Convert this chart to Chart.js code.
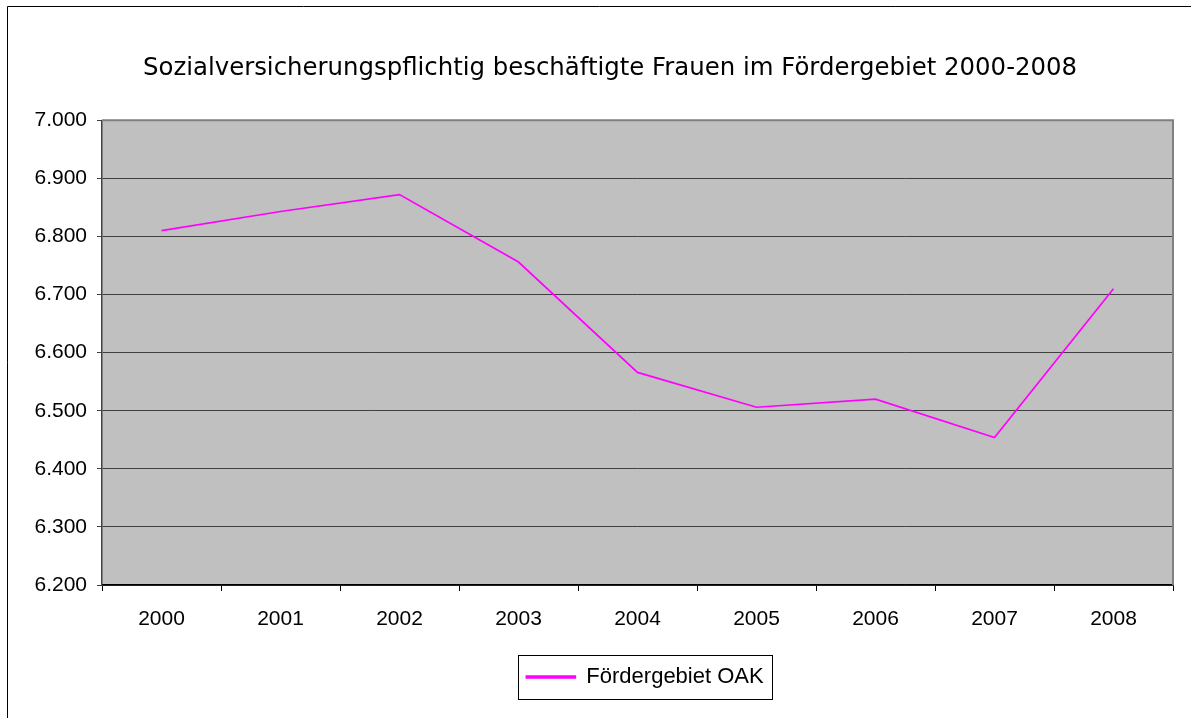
<!DOCTYPE html>
<html>
<head>
<meta charset="utf-8">
<script src="https://cdn.jsdelivr.net/npm/chart.js@4.4.0/dist/chart.umd.min.js"></script>
<style>
  html, body { margin: 0; padding: 0; background: #fff; }
  #wrap { position: absolute; left: 0; top: 0; width: 1191px; height: 718px; }
</style>
</head>
<body>
<div id="wrap"><canvas id="c" width="1191" height="718"></canvas></div>
<script>
const categories = ['2000','2001','2002','2003','2004','2005','2006','2007','2008'];
const seriesName = 'Fördergebiet OAK';
const seriesValues = [6810, 6843, 6872, 6756, 6566, 6506, 6520, 6454, 6710];
const titleText = 'Sozialversicherungspflichtig beschäftigte Frauen im Fördergebiet 2000-2008';
const yMin = 6200, yMax = 7000, yStep = 100;

const FONT = "'Liberation Sans', Arial, sans-serif";
const TFONT = "'DejaVu Sans', sans-serif";

const bgPlugin = {
  id: 'bgPlugin',
  afterLayout(chart) {
    if (chart.titleBlock) { chart.titleBlock.left = 47; }
    if (chart.legend) { chart.legend.left = 117; chart.legend.right = 1173; }
  },
  beforeDraw(chart) {
    const ctx = chart.ctx;
    ctx.save();
    ctx.fillStyle = '#ffffff';
    ctx.fillRect(0, 0, chart.width, chart.height);
    ctx.strokeStyle = '#000000';
    ctx.lineWidth = 1;
    ctx.beginPath();
    ctx.moveTo(7.5, chart.height);
    ctx.lineTo(7.5, 6.5);
    ctx.lineTo(chart.width, 6.5);
    ctx.stroke();
    const a = chart.chartArea;
    ctx.fillStyle = '#c0c0c0';
    ctx.fillRect(a.left, a.top, a.right - a.left, a.bottom - a.top);
    ctx.restore();
  },
  afterDraw(chart) {
    const ctx = chart.ctx;
    const a = chart.chartArea;
    ctx.save();
    ctx.strokeStyle = '#808080';
    ctx.lineWidth = 2;
    ctx.beginPath();
    ctx.moveTo(a.left, a.top);
    ctx.lineTo(a.right, a.top);
    ctx.lineTo(a.right, a.bottom);
    ctx.stroke();
    const lg = chart.legend;
    if (lg && lg.legendHitBoxes && lg.legendHitBoxes.length) {
      const hb = lg.legendHitBoxes[0];
      ctx.strokeStyle = '#000000';
      ctx.lineWidth = 1;
      const l = Math.round(hb.left - 8) + 0.5;
      const t = Math.round(hb.top + hb.height / 2 - 22) + 0.5;
      const r = Math.round(hb.left + hb.width + 8) + 0.5;
      const b = t + 44;
      ctx.strokeRect(l, t, r - l, b - t);
    }
    ctx.restore();
  }
};

new Chart(document.getElementById('c'), {
  type: 'line',
  data: {
    labels: categories,
    datasets: [{
      label: seriesName,
      data: seriesValues,
      borderColor: '#ff00ff',
      backgroundColor: '#ff00ff',
      borderWidth: 1.7,
      pointRadius: 0,
      pointHoverRadius: 0,
      tension: 0,
      fill: false
    }]
  },
  options: {
    responsive: false,
    animation: false,
    events: [],
    layout: { padding: { left: 0, right: 18, top: 0, bottom: 20 } },
    plugins: {
      title: {
        display: true,
        text: titleText,
        color: '#000',
        font: { family: TFONT, size: 24.4, weight: 'normal', lineHeight: 1.2 },
        padding: { top: 54, bottom: 37 }
      },
      legend: {
        display: true,
        position: 'bottom',
        labels: {
          color: '#000',
          font: { family: FONT, size: 22 },
          boxWidth: 49,
          boxHeight: 2,
          padding: 10
        }
      },
      tooltip: { enabled: false }
    },
    scales: {
      x: {
        offset: true,
        grid: {
          offset: true,
          drawOnChartArea: false,
          drawTicks: true,
          tickLength: 6,
          color: '#000'
        },
        border: { display: true, color: '#000', width: 1.5 },
        ticks: { color: '#000', font: { family: FONT, size: 21 }, padding: 16, maxRotation: 0, autoSkip: false },
        afterFit(s) { s.height = 71; }
      },
      y: {
        min: yMin,
        max: yMax,
        ticks: {
          stepSize: yStep,
          color: '#000',
          font: { family: FONT, size: 21 },
          padding: 10,
          callback: v => (v / 1000).toFixed(3)
        },
        grid: { color: '#404040', lineWidth: 1, tickLength: 5, drawTicks: true },
        border: { display: true, color: '#404040', width: 1.5 },
        afterFit(s) { s.width = 102; }
      }
    }
  },
  plugins: [bgPlugin]
});
</script>
</body>
</html>
